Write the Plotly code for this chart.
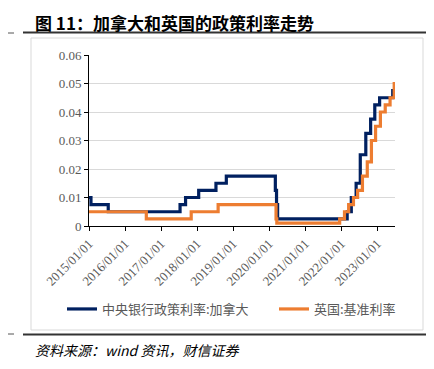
import plotly.graph_objects as go

# Bank of Canada policy rate (change dates and values)
ca_dates = ["2015-01-01", "2015-01-21", "2015-07-15", "2017-07-12", "2017-09-06",
            "2018-01-17", "2018-07-11", "2018-10-24", "2020-03-04", "2020-03-16",
            "2020-03-27", "2022-03-02", "2022-04-13", "2022-06-01", "2022-07-13",
            "2022-09-07", "2022-10-26", "2022-12-07", "2023-01-25", "2023-06-07",
            "2023-06-30"]
ca_rates = [0.01, 0.0075, 0.005, 0.0075, 0.01,
            0.0125, 0.015, 0.0175, 0.0125, 0.0075,
            0.0025, 0.005, 0.01, 0.015, 0.025,
            0.0325, 0.0375, 0.0425, 0.045, 0.0475,
            0.0475]

# Bank of England bank rate
uk_dates = ["2015-01-01", "2016-08-04", "2017-11-02", "2018-08-02", "2020-03-11",
            "2020-03-19", "2021-12-16", "2022-02-03", "2022-03-17", "2022-05-05",
            "2022-06-16", "2022-08-04", "2022-09-22", "2022-11-03", "2022-12-15",
            "2023-02-02", "2023-03-23", "2023-05-11", "2023-06-22", "2023-06-30"]
uk_rates = [0.005, 0.0025, 0.005, 0.0075, 0.0025,
            0.001, 0.0025, 0.005, 0.0075, 0.01,
            0.0125, 0.0175, 0.0225, 0.03, 0.035,
            0.04, 0.0425, 0.045, 0.05, 0.05]

tick_dates = ["2015-01-01", "2016-01-01", "2017-01-01", "2018-01-01", "2019-01-01",
              "2020-01-01", "2021-01-01", "2022-01-01", "2023-01-01"]
tick_labels = ["2015/01/01", "2016/01/01", "2017/01/01", "2018/01/01", "2019/01/01",
               "2020/01/01", "2021/01/01", "2022/01/01", "2023/01/01"]
y_ticks = [0, 0.01, 0.02, 0.03, 0.04, 0.05, 0.06]
y_labels = ["0", "0.01", "0.02", "0.03", "0.04", "0.05", "0.06"]

title = "图 11：加拿大和英国的政策利率走势"
source = "资料来源：wind 资讯，财信证券"
ca_name = "中央银行政策利率:加拿大"
uk_name = "英国:基准利率"

serif = "Liberation Serif, Times New Roman, serif"
cjk = "Noto Sans CJK SC, sans-serif"

# page body adds an 8px offset; the figure is shrunk/shifted to compensate
OFF = 8
W, H = 434 - OFF, 369 - OFF
PL, PT, PW, PH = 89, 55, 306, 171  # plot area in reference pixel coords


def px(x):
    return (x - PL) / PW


def py(y):
    return (PT + PH - y) / PH


fig = go.Figure()
fig.add_trace(go.Scatter(x=ca_dates, y=ca_rates, mode="lines", line_shape="hv",
                         line=dict(color="#002060", width=3.2), name=ca_name,
                         legend="legend"))
fig.add_trace(go.Scatter(x=uk_dates, y=uk_rates, mode="lines", line_shape="hv",
                         line=dict(color="#ED7D31", width=3.2), name=uk_name,
                         legend="legend2"))

leg_font = dict(family=cjk, size=13, color="#595959")
fig.update_layout(
    width=W, height=H,
    margin=dict(l=PL - OFF, r=W - (PL - OFF) - PW, t=PT - OFF, b=H - (PT - OFF) - PH),
    paper_bgcolor="white", plot_bgcolor="white",
    showlegend=True,
    legend=dict(orientation="h", x=px(62), xanchor="left", y=py(309), yanchor="middle",
                font=leg_font, itemwidth=30, bgcolor="rgba(0,0,0,0)"),
    legend2=dict(orientation="h", x=px(274), xanchor="left", y=py(309), yanchor="middle",
                 font=leg_font, itemwidth=30, bgcolor="rgba(0,0,0,0)"),
    xaxis=dict(type="date", range=["2015-01-01", "2023-06-30"],
               tickvals=tick_dates, ticktext=tick_labels, tickangle=-45,
               showline=True, linecolor="#000000", linewidth=1,
               ticks="outside", ticklen=4, tickcolor="#000000",
               showgrid=False, zeroline=False,
               tickfont=dict(family=serif, size=13, color="#595959")),
    yaxis=dict(range=[0, 0.06], tickvals=y_ticks, ticktext=y_labels,
               showline=True, linecolor="#000000", linewidth=1,
               ticks="outside", ticklen=4, tickcolor="#000000",
               showgrid=True, gridcolor="#d9d9d9", gridwidth=1, zeroline=False,
               tickfont=dict(family=serif, size=13, color="#595959")),
)

shapes = [
    dict(type="rect", xref="paper", yref="paper", x0=px(31), x1=px(423),
         y0=py(330), y1=py(38), line=dict(color="#d9d9d9", width=1), layer="below"),
    dict(type="line", xref="paper", yref="paper", x0=px(23), x1=px(427),
         y0=py(32.5), y1=py(32.5), line=dict(color="#333333", width=2)),
    dict(type="line", xref="paper", yref="paper", x0=px(23), x1=px(427),
         y0=py(334.5), y1=py(334.5), line=dict(color="#333333", width=2)),
    dict(type="line", xref="paper", yref="paper", x0=px(OFF), x1=px(14),
         y0=py(33), y1=py(33), line=dict(color="#555555", width=1)),
    dict(type="line", xref="paper", yref="paper", x0=px(OFF), x1=px(14),
         y0=py(334), y1=py(334), line=dict(color="#555555", width=1)),
]
fig.update_layout(shapes=shapes)

fig.add_annotation(text="<b>" + title + "</b>", xref="paper", yref="paper",
                   x=px(33), y=py(22), xanchor="left", yanchor="middle",
                   showarrow=False, font=dict(family=cjk, size=17, color="#000000"))
fig.add_annotation(text=source, xref="paper", yref="paper",
                   x=px(33), y=py(350), xanchor="left", yanchor="middle",
                   showarrow=False, font=dict(family=cjk, size=14, color="#000000", style="italic"))

fig.write_html("out.html")
